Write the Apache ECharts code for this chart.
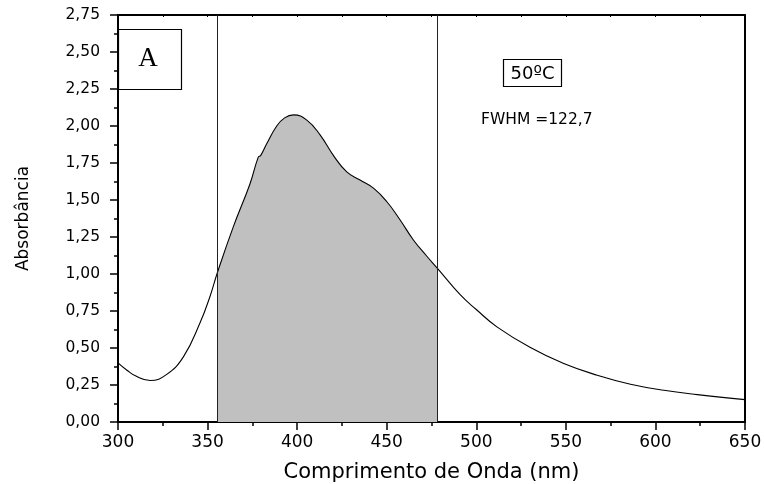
<!DOCTYPE html>
<html>
<head>
<meta charset="utf-8">
<title>Absorbância 50ºC</title>
<script src="https://cdn.jsdelivr.net/npm/echarts@6/dist/echarts.min.js"></script>
<style>
  html, body { margin: 0; padding: 0; background: #fff; }
  #chart { width: 764px; height: 484px; }
</style>
</head>
<body>
<div id="chart"></div>
<script>
// Absorption spectrum (wavelength in nm, absorbance)
const wavelength = [300, 305, 310, 318, 327, 336.5, 345.8, 351.4, 355.5, 364.4, 373.7, 378.3, 379.6, 383, 388.6, 393, 398, 405.4, 412.8, 420.3, 427.7, 435.1, 442.6, 450, 457.5, 464.9, 472.4, 478.2, 491, 500, 511.5, 530.2, 548.8, 567.5, 586.1, 604.7, 623.4, 650];
const absorbance = [0.40, 0.35, 0.31, 0.28, 0.32, 0.44, 0.67, 0.85, 1.01, 1.32, 1.61, 1.79, 1.80, 1.88, 2.00, 2.055, 2.075, 2.04, 1.94, 1.80, 1.69, 1.635, 1.58, 1.49, 1.365, 1.23, 1.12, 1.04, 0.86, 0.76, 0.643, 0.503, 0.395, 0.316, 0.255, 0.214, 0.185, 0.151];

// Half-maximum bounds (nm) and annotation texts
const halfMaxBounds = [355.5, 478.2];
const panelLabel = 'A';
const tempLabel = '50ºC';
const fwhmLabel = 'FWHM =122,7';

// Axis ranges and tick steps
const xRange = [300, 650];
const xStep = 50;
const yRange = [0, 2.75];
const yStep = 0.25;

const spectrum = wavelength.map((w, i) => [w, absorbance[i]]);
const halfMaxBand = spectrum.filter(p => p[0] >= halfMaxBounds[0] && p[0] <= halfMaxBounds[1]);

const SANS = '"DejaVu Sans", "Liberation Sans", Arial, sans-serif';
const SERIF = '"Liberation Serif", "Times New Roman", serif';

const chart = echarts.init(document.getElementById('chart'), null, { renderer: 'canvas' });

const smoothness = 0.45;

chart.setOption({
  backgroundColor: '#ffffff',
  animation: false,
  grid: { left: 118, right: 19, top: 15, bottom: 62, containLabel: false, outerBoundsMode: 'none' },
  xAxis: [
    {
      type: 'value',
      position: 'bottom',
      min: xRange[0], max: xRange[1], interval: xStep,
      name: 'Comprimento de Onda (nm)',
      nameLocation: 'middle',
      nameGap: 40,
      nameTextStyle: { fontFamily: SANS, fontSize: 21, color: '#000' },
      axisLine: { show: true, onZero: false, lineStyle: { color: '#000', width: 2 } },
      axisTick: { show: true, inside: false, length: 8, lineStyle: { color: '#000', width: 1.5 } },
      minorTick: { show: true, splitNumber: 2, length: 4, lineStyle: { color: '#000', width: 1.5 } },
      axisLabel: { fontFamily: SANS, fontSize: 17, color: '#000', margin: 12 },
      splitLine: { show: false }
    },
    {
      type: 'value',
      position: 'top',
      min: xRange[0], max: xRange[1], interval: 25,
      axisLine: { show: true, onZero: false, lineStyle: { color: '#000', width: 2 } },
      axisTick: { show: true, inside: true, length: 2, lineStyle: { color: '#000', width: 1 } },
      axisLabel: { show: false },
      splitLine: { show: false }
    }
  ],
  yAxis: [
    {
      type: 'value',
      position: 'left',
      min: yRange[0], max: yRange[1], interval: yStep,
      name: 'Absorbância',
      nameLocation: 'middle',
      nameGap: 86,
      nameTextStyle: { fontFamily: SANS, fontSize: 17, color: '#000' },
      axisLine: { show: true, onZero: false, lineStyle: { color: '#000', width: 2 } },
      axisTick: { show: true, inside: false, length: 8, lineStyle: { color: '#000', width: 1.5 } },
      minorTick: { show: true, splitNumber: 2, length: 4, lineStyle: { color: '#000', width: 1.5 } },
      axisLabel: {
        fontFamily: SANS, fontSize: 15.5, color: '#000', margin: 18,
        formatter: v => v.toFixed(2).replace('.', ',')
      },
      splitLine: { show: false }
    },
    {
      type: 'value',
      position: 'right',
      min: yRange[0], max: yRange[1], interval: yStep,
      axisLine: { show: true, onZero: false, lineStyle: { color: '#000', width: 2 } },
      axisTick: { show: false },
      axisLabel: { show: false },
      splitLine: { show: false }
    }
  ],
  series: [
    {
      name: 'band',
      type: 'line',
      data: halfMaxBand,
      smooth: smoothness,
      symbol: 'none',
      lineStyle: { width: 0, opacity: 0 },
      areaStyle: { color: '#c0c0c0', opacity: 1, origin: 'start' },
      z: 1,
      silent: true
    },
    {
      name: 'spectrum',
      type: 'line',
      data: spectrum,
      smooth: smoothness,
      symbol: 'none',
      lineStyle: { color: '#000', width: 1.1 },
      z: 3,
      silent: true,
      markLine: {
        silent: true,
        symbol: ['none', 'none'],
        label: { show: false },
        lineStyle: { color: '#222', width: 1, type: 'solid' },
        data: halfMaxBounds.map(b => ({ xAxis: b }))
      }
    }
  ],
  graphic: [
    {
      type: 'rect',
      shape: { x: 118.5, y: 29.5, width: 63, height: 60 },
      style: { fill: '#fff', stroke: '#000', lineWidth: 1.2 },
      z: 10
    },
    {
      type: 'text',
      x: 148, y: 59,
      style: {
        text: panelLabel, font: '27px ' + SERIF, fill: '#000',
        align: 'center', verticalAlign: 'middle'
      },
      z: 11
    },
    {
      type: 'rect',
      shape: { x: 503.5, y: 59.5, width: 58, height: 27 },
      style: { fill: '#fff', stroke: '#000', lineWidth: 1.2 },
      z: 10
    },
    {
      type: 'text',
      x: 532.5, y: 74,
      style: {
        text: tempLabel, font: '18px ' + SANS, fill: '#000',
        align: 'center', verticalAlign: 'middle'
      },
      z: 11
    },
    {
      type: 'text',
      x: 481, y: 120,
      style: {
        text: fwhmLabel, font: '15.5px ' + SANS, fill: '#000',
        align: 'left', verticalAlign: 'middle'
      },
      z: 11
    }
  ]
});
</script>
</body>
</html>
